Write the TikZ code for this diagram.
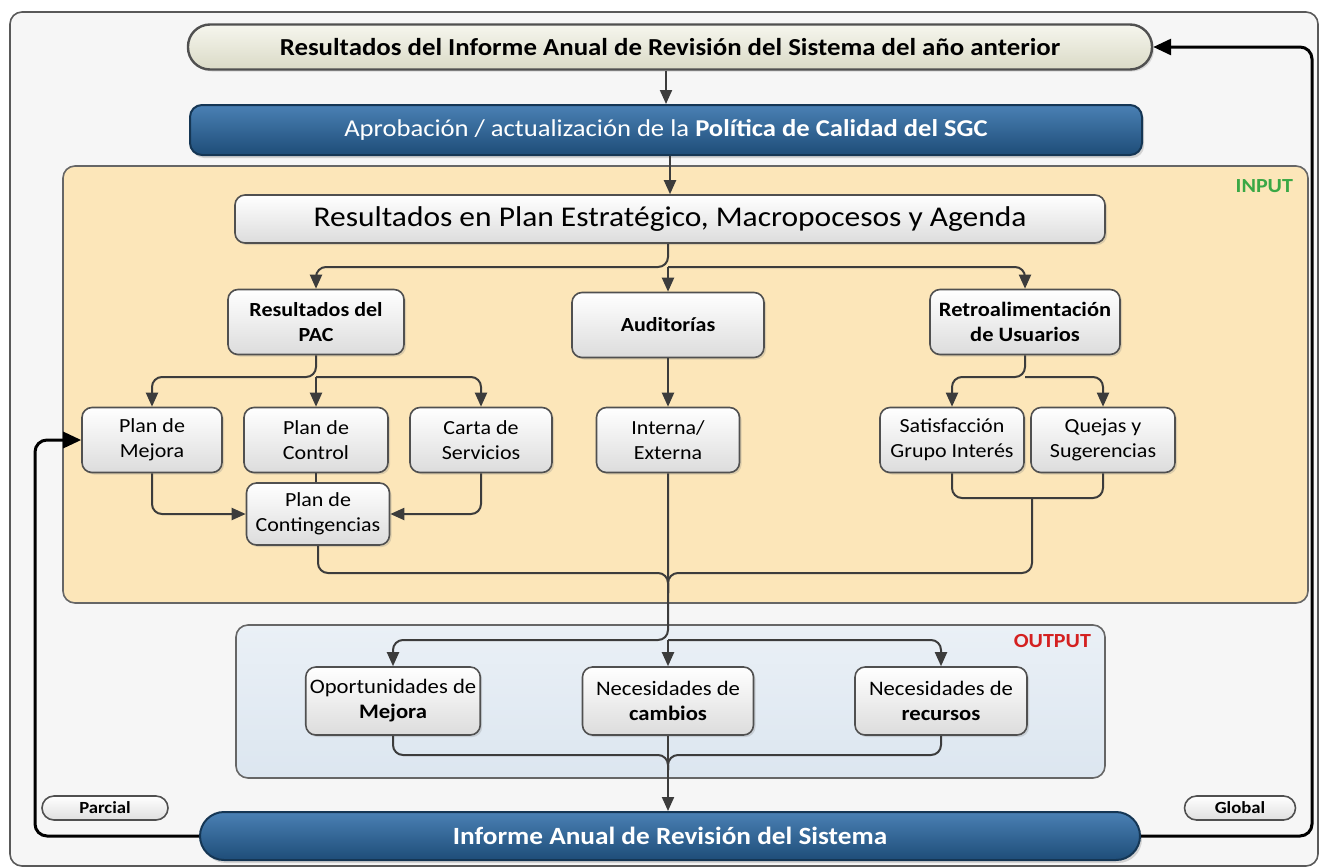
\documentclass[tikz,border=0pt]{standalone}
\usepackage{fontspec}
\setmainfont{Carlito}[FakeStretch=1.1]
\usepackage{xcolor}
\usetikzlibrary{positioning,arrows.meta,shadows}
\definecolor{framebg}{HTML}{F6F6F6}
\definecolor{inbg}{HTML}{FCE6B9}
\definecolor{outbg}{HTML}{DCE6F0}
\definecolor{boxline}{HTML}{505050}
\definecolor{boxgray}{HTML}{DCDCDC}
\definecolor{linegray}{HTML}{3C3C3C}
\definecolor{prevA}{HTML}{F6F6EE}
\definecolor{prevB}{HTML}{DADAC6}
\definecolor{navyA}{HTML}{4A80B4}
\definecolor{navyB}{HTML}{1E4D78}
\definecolor{inputgreen}{HTML}{3AA845}
\definecolor{outputred}{HTML}{D42020}

\begin{document}
\begin{tikzpicture}[x=0.5pt,y=-0.5pt,
    box/.style={draw=boxline, line width=0.8pt, rounded corners=5pt, top color=white, bottom color=boxgray,
        align=center, inner sep=2pt, font=\fontsize{10}{12.5}\selectfont,
        drop shadow={opacity=0.25,shadow xshift=1pt,shadow yshift=-1pt}},
    bluebar/.style={draw=navyB!70!black, line width=1pt, top color=navyA, bottom color=navyB, text=white,
        align=center, inner sep=2pt, drop shadow={opacity=0.3,shadow xshift=1pt,shadow yshift=-1.5pt}},
    tag/.style={draw=boxline, line width=0.8pt, rounded corners=6pt, top color=white, bottom color=gray!25,
        minimum height=12pt, inner sep=1pt, font=\fontsize{8.5}{10}\selectfont\bfseries},
    line/.style={draw=linegray, line width=1pt, rounded corners=5pt},
    flow/.style={line, -{Triangle[length=7pt,width=6pt]}},
    back/.style={draw=black, line width=1.5pt, rounded corners=6pt, -{Triangle[length=9pt,width=8pt]}}]
    \useasboundingbox (0,0) rectangle (1320,867);

    % frame and the two areas
    \draw[draw=gray!70!black, line width=0.8pt, rounded corners=6pt, fill=framebg] (10,12) rectangle (1318,866);
    \draw[draw=gray!80!black, line width=0.8pt, rounded corners=6pt, fill=inbg] (63,166) rectangle (1308,603);
    \draw[draw=gray!80!black, line width=0.8pt, rounded corners=6pt, top color=outbg!60!white, bottom color=outbg] (236,625) rectangle (1105,778);
    \node[font=\fontsize{10}{12}\selectfont\bfseries, text=inputgreen, anchor=east] (inlbl) at (1300,186) {INPUT};
    \node[font=\fontsize{10}{12}\selectfont\bfseries, text=outputred, anchor=east] (outlbl) at (1098,641) {OUTPUT};

    % top of the cycle
    \node[draw=boxline, line width=1.2pt, rounded corners=11pt, top color=prevA, bottom color=prevB,
        minimum width=482pt, minimum height=22.5pt, font=\fontsize{12.2}{14}\selectfont\bfseries,
        drop shadow={opacity=0.25,shadow xshift=1pt,shadow yshift=-1pt}] (prev) at (670,47)
        {Resultados del Informe Anual de Revisión del Sistema del año anterior};
    \node[bluebar, rounded corners=6pt, minimum width=476pt, minimum height=25pt, font=\fontsize{12.1}{14}\selectfont] (pol) at (666,130)
        {Aprobación / actualización de la \textbf{Política de Calidad del SGC}};

    % INPUT
    \node[box, minimum width=435pt, minimum height=24pt, font=\fontsize{14.3}{16}\selectfont] (res) at (670,219)
        {Resultados en Plan Estratégico, Macropocesos y Agenda};
    \node[box, minimum width=88pt, minimum height=32.5pt, font=\fontsize{10}{12.5}\selectfont\bfseries] (pac) at (316,322) {Resultados del\\PAC};
    \node[box, minimum width=96pt, minimum height=32.5pt, font=\fontsize{10}{12.5}\selectfont\bfseries] (aud) at (668,325) {Auditorías};
    \node[box, minimum width=95pt, minimum height=32.5pt, font=\fontsize{10.2}{12.5}\selectfont\bfseries] (retro) at (1025,322) {Retroalimentación\\de Usuarios};

    \node[box, minimum width=70pt, minimum height=32.5pt] (mej) at (152,440) {Plan de\\Mejora};
    \node[box, minimum width=72pt, minimum height=32.5pt] (ctl) at (316,440) {Plan de\\Control};
    \node[box, minimum width=71pt, minimum height=32.5pt] (carta) at (481,440) {Carta de\\Servicios};
    \node[box, minimum width=71.5pt, minimum height=32.5pt] (inter) at (668,440) {Interna/\\Externa};
    \node[box, minimum width=72pt, minimum height=32.5pt] (sat) at (952,440) {Satisfacción\\Grupo Interés};
    \node[box, minimum width=72pt, minimum height=32.5pt] (quej) at (1103,440) {Quejas y\\Sugerencias};
    \node[box, minimum width=71.5pt, minimum height=31pt] (cont) at (318,514) {Plan de\\Contingencias};

    % OUTPUT
    \node[box, minimum width=87pt, minimum height=34pt, font=\fontsize{10.3}{12.5}\selectfont] (oport) at (393,701) {Oportunidades de\\\textbf{Mejora}};
    \node[box, minimum width=85.5pt, minimum height=34pt, font=\fontsize{10.3}{12.5}\selectfont] (camb) at (668,701) {Necesidades de\\\textbf{cambios}};
    \node[box, minimum width=86pt, minimum height=34pt, font=\fontsize{10.3}{12.5}\selectfont] (recur) at (941,701) {Necesidades de\\\textbf{recursos}};

    % bottom of the cycle
    \node[bluebar, rounded corners=12pt, minimum width=470pt, minimum height=24pt, font=\fontsize{12.4}{14}\selectfont\bfseries] (inf) at (670,836)
        {Informe Anual de Revisión del Sistema};
    \node[tag, minimum width=63pt] (parcial) at (105,808) {Parcial};
    \node[tag, minimum width=55.5pt] (global) at (1240,808) {Global};

    % junctions
    \coordinate (jres) at (668,267);
    \coordinate (jpac) at (316,377);
    \coordinate (jretro) at (1025,377);
    \coordinate (jsq) at (1032,498);
    \coordinate (jin) at (668,573);
    \coordinate (jout) at (668,640);
    \coordinate (jbot) at (668,755);
    \coordinate (fl) at (35,836);
    \coordinate (fr) at (1312,836);

    \draw[flow] (prev.south -| pol.north) -- (pol.north);
    \draw[flow] (pol.south -| res.north) -- (res.north);
    \draw[flow] (res.south -| jres) -- (jres) -| (pac.north);
    \draw[flow] (jres) -| (retro.north);
    \draw[flow] (jres) -- (aud.north);
    \draw[flow] (pac.south) -- (jpac) -| (mej.north);
    \draw[flow] (jpac) -| (carta.north);
    \draw[flow] (jpac) -- (ctl.north);
    \draw[flow] (retro.south) -- (jretro) -| (sat.north);
    \draw[flow] (jretro) -| (quej.north);
    \draw[flow] (aud.south) -- (inter.north);
    \draw[line] (ctl.south) -- (ctl.south |- cont.north);
    \draw[flow] (mej.south) |- (cont.west);
    \draw[flow] (carta.south) |- (cont.east);
    \draw[line] (cont.south) |- (jin) -- ++(0,20);
    \draw[line] (sat.south) |- (jsq) -| (quej.south);
    \draw[line] (jsq) |- (jin) -- ++(0,20);
    \draw[flow] (inter.south) -- (jout) -| (oport.north);
    \draw[flow] (jout) -| (recur.north);
    \draw[flow] (jout) -- (camb.north);
    \draw[line] (oport.south) |- (jbot) -- ++(0,15);
    \draw[line] (recur.south) |- (jbot) -- ++(0,15);
    \draw[flow] (camb.south) -- (inf.north -| camb.south);

    % feedback
    \draw[back] (inf.west) -- (fl) |- (mej.west);
    \draw[back] (inf.east) -- (fr) |- (prev.east);
\end{tikzpicture}
\end{document}
